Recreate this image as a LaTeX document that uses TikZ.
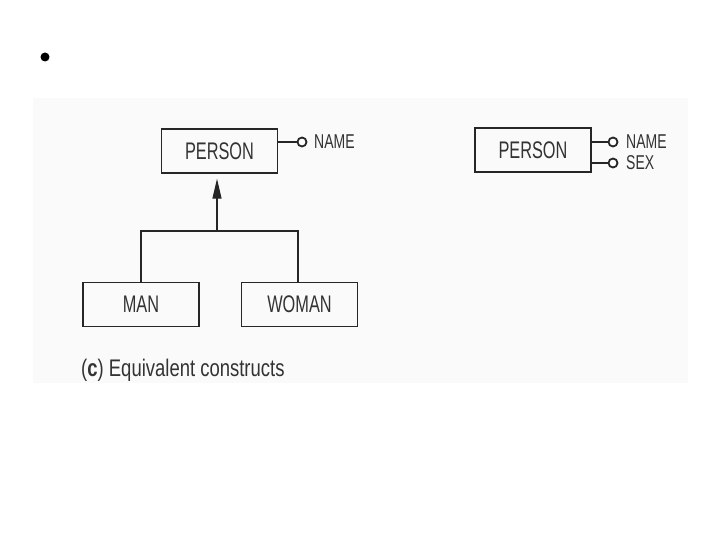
\documentclass[tikz,border=0pt]{standalone}
\usepackage{fontspec}
\setmainfont{Liberation Sans}
\newfontfamily\boxf{Liberation Sans}[FakeStretch=0.68]
\newfontfamily\attf{Liberation Sans}[FakeStretch=0.70]
\newfontfamily\capf{Liberation Sans}[FakeStretch=0.77]
\usetikzlibrary{arrows.meta}
\begin{document}
\begin{tikzpicture}[x=1bp,y=-1bp,
  ent/.style={draw=black!85, line width=1.4bp, minimum width=116bp, minimum height=44bp, inner sep=0pt,
    font=\boxf\fontsize{24bp}{28bp}\selectfont, text=black!80},
  attr/.style={circle, draw=black!85, line width=1.8bp, fill=white, minimum size=9bp, inner sep=0pt},
  attrtxt/.style={anchor=west, inner sep=0pt, font=\attf\fontsize{20bp}{24bp}\selectfont, text=black!80},
  conn/.style={draw=black!85, line width=1.3bp}]
\useasboundingbox (0,0) rectangle (720,540);
\fill[black!2] (33,98) rectangle (688,383);
\node[circle, fill=black, minimum size=9bp, inner sep=0pt] (bullet) at (45,57) {};
% left construct
\node[ent] (p1) at (219.5,151) {PERSON};
\node[attr] (c1) at (302,142) {};
\node[attrtxt] (n1) at (314,142) {NAME};
\draw[conn] (p1.east |- c1) -- (c1);
\node[ent] (man) at (141,304.5) {MAN};
\node[ent] (woman) at (299.5,304.5) {WOMAN};
\coordinate (j) at (217,231);
\coordinate (jl) at (141,231);
\coordinate (jr) at (298,231);
\draw[conn] (man.north -| jl) -- (jl) -- (jr) -- (woman.north -| jr);
\draw[conn, -{Triangle[length=20bp,width=9bp]}, shorten >=5bp] (j) -- (p1.south -| j);
\node[anchor=west, inner sep=0pt, font=\capf\fontsize{24bp}{28bp}\selectfont, text=black!80] (cap) at (81,370) {(\textbf{c}) Equivalent constructs};
% right construct
\node[ent] (p2) at (533,150) {PERSON};
\node[attr] (c2) at (613,142) {};
\node[attr] (c3) at (613,163) {};
\node[attrtxt] (n2) at (626,142) {NAME};
\node[attrtxt] (n3) at (626,163) {SEX};
\draw[conn] (p2.east |- c2) -- (c2);
\draw[conn] (p2.east |- c3) -- (c3);
\end{tikzpicture}
\end{document}
